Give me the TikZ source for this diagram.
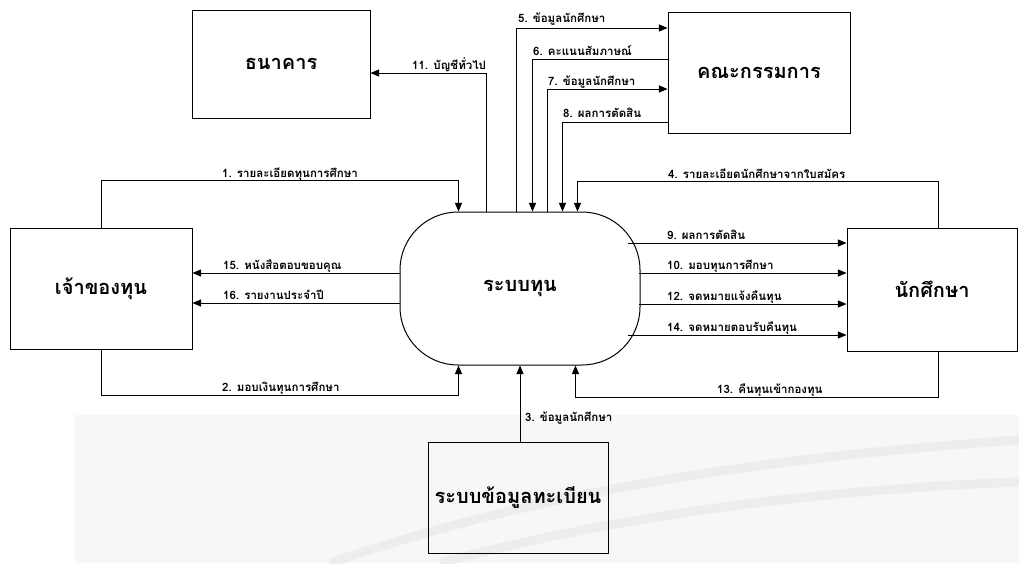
\documentclass[tikz,border=0pt]{standalone}
\usepackage{fontspec}
\newfontfamily\thaifont[Script=Thai]{Loma}
\usetikzlibrary{arrows,calc}
\tikzstyle{entity} = [
  draw,
  rectangle,
  line width=1pt,
  inner sep=0pt,
  font=\thaifont\bfseries\fontsize{20}{24}\selectfont,
]
\tikzstyle{process} = [
  entity,
  rounded corners=58pt,
]
\tikzstyle{flow} = [
  ->,
  line width=1pt,
]
\tikzstyle{flowlabel} = [
  anchor=base west,
  inner sep=0pt,
  font=\thaifont\bfseries\fontsize{11.5}{13}\selectfont,
]

\begin{document}
\begin{tikzpicture}[
    x=1pt,
    y=-1pt,
    >=triangle 45,
  ]
  \useasboundingbox (0,0) rectangle (1019,563);
  \fill[gray!6] (75,415) rectangle (1019,563);
  \draw[gray!14, line width=9pt]
    (330,563) .. controls (500,505) and (700,462) .. (1019,440);
  \draw[gray!14, line width=9pt]
    (440,563) .. controls (570,528) and (760,492) .. (1019,482);

  \node[
    entity,
    minimum width=178pt,
    minimum height=108pt,
  ] (bank) at (281,64) {ธนาคาร};
  \node[
    entity,
    minimum width=182pt,
    minimum height=121pt,
  ] (board) at (759,72.5) {คณะกรรมการ};
  \node[
    entity,
    minimum width=182pt,
    minimum height=121pt,
  ] (owner) at (101,288.5) {เจ้าของทุน};
  \node[
    process,
    minimum width=240pt,
    minimum height=153pt,
  ] (fund) at (520,288.5) {ระบบทุน};
  \node[
    entity,
    minimum width=170pt,
    minimum height=123pt,
  ] (student) at (932,289.5) {นักศึกษา};
  \node[
    entity,
    minimum width=180pt,
    minimum height=111pt,
  ] (registry) at (518,497.5) {ระบบข้อมูลทะเบียน};

  \coordinate (f1) at ($(fund.north west)+(59,0)$);
  \coordinate (f2) at ($(fund.south west)+(59,0)$);
  \coordinate (f4) at ($(fund.north west)+(178,0)$);
  \coordinate (f5) at ($(fund.north west)+(117,0)$);
  \coordinate (f6) at ($(fund.north west)+(133,0)$);
  \coordinate (f7) at ($(fund.north west)+(148,0)$);
  \coordinate (f8) at ($(fund.north west)+(163,0)$);
  \coordinate (f9) at ($(fund.east)+(-13,-45.5)$);
  \coordinate (f10) at ($(fund.east)+(-2,-15.5)$);
  \coordinate (f11) at ($(fund.north west)+(87,0)$);
  \coordinate (f12) at ($(fund.east)+(-2,15.5)$);
  \coordinate (f13) at ($(fund.south west)+(176,0)$);
  \coordinate (f14) at ($(fund.east)+(-13,46.5)$);
  \coordinate (f15) at ($(fund.west)+(0,-15.5)$);
  \coordinate (f16) at ($(fund.west)+(0,14.5)$);

  \draw[flow] (owner.north) -- ++(0,-47) -| (f1);
  \draw[flow] (owner.south) -- ++(0,46) -| (f2);
  \draw[flow] (registry.north -| fund.south) -- (fund.south);
  \draw[flow] ($(student.north)+(6,0)$) -- ++(0,-46) -| (f4);
  \draw[flow] (f5) |- ($(board.west)+(0,-44.5)$);
  \draw[flow] ($(board.west)+(0,-13.5)$) -| (f6);
  \draw[flow] (f7) |- ($(board.west)+(0,16.5)$);
  \draw[flow] ($(board.west)+(0,49.5)$) -| (f8);
  \draw[flow] (f9) -- (f9 -| student.west);
  \draw[flow] (f10) -- (f10 -| student.west);
  \draw[flow] (f11) |- ($(bank.east)+(0,9)$);
  \draw[flow] (f12) -- (f12 -| student.west);
  \draw[flow] ($(student.south)+(6,0)$) -- ++(0,46) -| (f13);
  \draw[flow] (f14) -- (f14 -| student.west);
  \draw[flow] (f15) -- (f15 -| owner.east);
  \draw[flow] (f16) -- (f16 -| owner.east);

  \node[flowlabel] (l1) at (222,177) {1. รายละเอียดทุนการศึกษา};
  \node[flowlabel] (l2) at (222,391) {2. มอบเงินทุนการศึกษา};
  \node[flowlabel] (l3) at (525,421) {3. ข้อมูลนักศึกษา};
  \node[flowlabel] (l4) at (668,178) {4. รายละเอียดนักศึกษาจากใบสมัคร};
  \node[flowlabel] (l5) at (518,22) {5. ข้อมูลนักศึกษา};
  \node[flowlabel] (l6) at (533,55) {6. คะแนนสัมภาษณ์};
  \node[flowlabel] (l7) at (548,85) {7. ข้อมูลนักศึกษา};
  \node[flowlabel] (l8) at (563,117) {8. ผลการตัดสิน};
  \node[flowlabel] (l9) at (667,239) {9. ผลการตัดสิน};
  \node[flowlabel] (l10) at (667,269) {10. มอบทุนการศึกษา};
  \node[flowlabel] (l11) at (412,69) {11. บัญชีทั่วไป};
  \node[flowlabel] (l12) at (667,300) {12. จดหมายแจ้งคืนทุน};
  \node[flowlabel] (l13) at (717,393) {13. คืนทุนเข้ากองทุน};
  \node[flowlabel] (l14) at (667,331) {14. จดหมายตอบรับคืนทุน};
  \node[flowlabel] (l15) at (223,269) {15. หนังสือตอบขอบคุณ};
  \node[flowlabel] (l16) at (223,299) {16. รายงานประจำปี};
\end{tikzpicture}
\end{document}
